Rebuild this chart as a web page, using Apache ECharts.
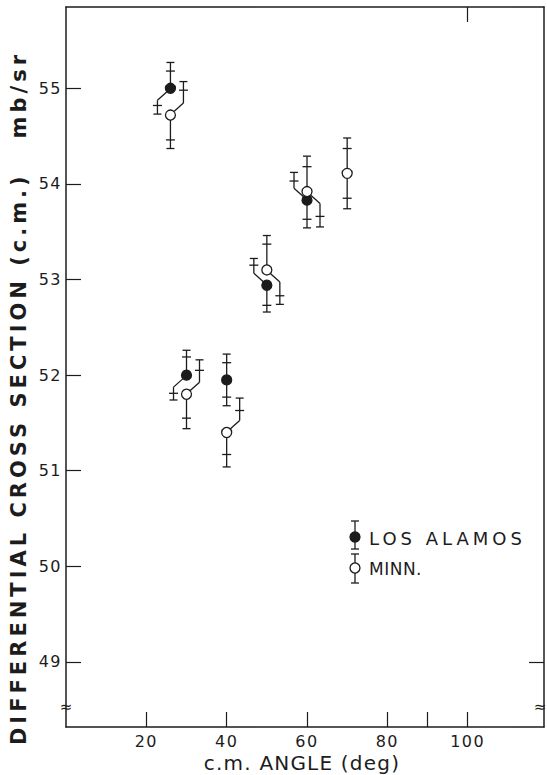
<!DOCTYPE html>
<html>
<head>
<meta charset="utf-8">
<script src="https://cdn.jsdelivr.net/npm/echarts@6/dist/echarts.min.js"></script>
<style>
  html, body { margin: 0; padding: 0; background: #fff; }
  #chart { width: 547px; height: 775px; }
  /* the scanned lettering is widely spaced */
  #chart text[style*="21px"] { letter-spacing: 4px; }
  #chart text[style*="20px"] { letter-spacing: 1.2px; }
  #chart text[style*="18px"] { letter-spacing: 4px; }
  #chart text[style*="17px"] { letter-spacing: 0.5px; }
  #chart text[style*="16px"] { letter-spacing: 1.5px; }
</style>
</head>
<body>
<div id="chart"></div>
<script>
// Los Alamos (filled circles)
var laAngle = [26, 30, 40, 50, 60];
var laValue = [55.0, 52.0, 51.95, 52.94, 53.83];
var laErr = [0.27, 0.26, 0.27, 0.28, 0.29];
var laErrInner = [0.18, 0.19, 0.18, 0.21, 0.20];
var laJog = ['down', 'down', '', 'up', 'up'];

// Minn. (open circles)
var mnAngle = [26, 30, 40, 50, 60, 70];
var mnValue = [54.72, 51.80, 51.40, 53.10, 53.92, 54.11];
var mnErr = [0.35, 0.36, 0.36, 0.36, 0.37, 0.37];
var mnErrInner = [0.26, 0.25, 0.23, 0.27, 0.26, 0.26];
var mnJog = ['up', 'up', 'up', 'down', 'down', ''];

var yTicks = [49, 50, 51, 52, 53, 54, 55];
var xTicks = [20, 40, 60, 80, 90, 100];
var xLabels = [20, 40, 60, 80, 100];

var INK = '#1c1c1c';
var FONT = 'DejaVu Sans';

function seg(x1, y1, x2, y2) {
  return {
    type: 'line',
    shape: { x1: x1, y1: y1, x2: x2, y2: y2 },
    style: { stroke: INK, lineWidth: 1.3 }
  };
}

// error bar with an optional side-jog when two points overlap
function errorBarItem(jogs, side, filled) {
  return function (params, api) {
    var x = api.value(0), y = api.value(1);
    var e = api.value(2), ei = api.value(3);
    var c = api.coord([x, y]);
    var jog = jogs[params.dataIndex];
    var R = 5, DX = 13, DY = 12, CAP = 4;
    var kids = [];
    ['up', 'down'].forEach(function (dir) {
      var s = dir === 'up' ? 1 : -1;
      var yo = api.coord([x, y + s * e])[1];
      var yi = api.coord([x, y + s * ei])[1];
      var bx = c[0], y0 = c[1];
      if (jog === dir) {
        bx = c[0] + side * DX;
        y0 = c[1] - s * DY;
        kids.push(seg(c[0] + side * R * 0.7, c[1] - s * R * 0.7, bx, y0));
      }
      kids.push(seg(bx, y0, bx, yo));
      kids.push(seg(bx - CAP, yo, bx + CAP, yo));
      kids.push(seg(bx - CAP - 0.5, yi, bx + CAP + 0.5, yi));
    });
    kids.push({
      type: 'circle',
      shape: { cx: c[0], cy: c[1], r: R },
      style: { fill: filled ? INK : '#fff', stroke: INK, lineWidth: 1.3 }
    });
    return { type: 'group', children: kids };
  };
}

function rows(a, v, e, ei) {
  return a.map(function (x, i) { return [x, v[i], e[i], ei[i]]; });
}

function legendMark(cx, cy, top, bottom, filled) {
  return [
    seg(cx, top, cx, bottom),
    seg(cx - 4, top, cx + 4, top),
    seg(cx - 4, bottom, cx + 4, bottom),
    {
      type: 'circle',
      shape: { cx: cx, cy: cy, r: 5 },
      style: { fill: filled ? INK : '#fff', stroke: INK, lineWidth: 1.3 }
    }
  ];
}

var chart = echarts.init(document.getElementById('chart'), null, { renderer: 'svg' });

var axisLine = { show: true, onZero: false, lineStyle: { color: INK, width: 1.5 } };
var tickStyle = { color: INK, width: 1.2 };
var labelStyle = { color: INK, fontSize: 16, fontFamily: FONT };

chart.setOption({
  backgroundColor: '#fff',
  animation: false,
  grid: { left: 66, right: 3, top: 7, bottom: 48 },
  xAxis: [{
    type: 'value', min: 0, max: 119,
    axisLine: axisLine,
    axisTick: { inside: true, length: 15, lineStyle: tickStyle, customValues: xTicks },
    axisLabel: Object.assign({ margin: 6, customValues: xLabels }, labelStyle),
    splitLine: { show: false }
  }, {
    type: 'value', min: 0, max: 119, position: 'top',
    axisLine: axisLine,
    axisTick: { inside: true, length: 15, lineStyle: tickStyle, customValues: [100] },
    axisLabel: { show: false },
    splitLine: { show: false }
  }],
  yAxis: [{
    type: 'value', min: 48.32, max: 55.85,
    axisLine: axisLine,
    axisTick: { inside: true, length: 15, lineStyle: tickStyle, customValues: yTicks },
    axisLabel: Object.assign({ margin: 4, customValues: yTicks }, labelStyle),
    splitLine: { show: false }
  }, {
    type: 'value', min: 48.32, max: 55.85, position: 'right',
    axisLine: axisLine,
    axisTick: { inside: true, length: 15, lineStyle: tickStyle, customValues: [49] },
    axisLabel: { show: false },
    splitLine: { show: false }
  }],
  series: [{
    name: 'LOS ALAMOS',
    type: 'custom',
    clip: false,
    renderItem: errorBarItem(laJog, -1, true),
    data: rows(laAngle, laValue, laErr, laErrInner),
    z: 3
  }, {
    name: 'MINN.',
    type: 'custom',
    clip: false,
    renderItem: errorBarItem(mnJog, 1, false),
    data: rows(mnAngle, mnValue, mnErr, mnErrInner),
    z: 4
  }],
  graphic: [{
    type: 'group',
    children: legendMark(355, 537, 521, 549, true).concat(legendMark(355, 568, 554, 583, false)).concat([
      { type: 'text', x: 369, y: 538, style: { text: 'LOS ALAMOS', fill: INK, font: '18px "' + FONT + '"', verticalAlign: 'middle' } },
      { type: 'text', x: 369, y: 569, style: { text: 'MINN.', fill: INK, font: '17px "' + FONT + '"', verticalAlign: 'middle' } }
    ])
  }, {
    type: 'text', x: 19, y: 398, rotation: Math.PI / 2,
    style: { text: 'DIFFERENTIAL CROSS SECTION (c.m.)   mb/sr', fill: INK, font: 'bold 21px "' + FONT + '"', align: 'center', verticalAlign: 'middle' }
  }, {
    type: 'text', x: 302, y: 763,
    style: { text: 'c.m. ANGLE (deg)', fill: INK, font: '20px "' + FONT + '"', align: 'center', verticalAlign: 'middle' }
  }, {
    type: 'text', x: 66, y: 707,
    style: { text: '≈', fill: INK, font: '15px "' + FONT + '"', align: 'center', verticalAlign: 'middle' }
  }, {
    type: 'text', x: 540, y: 707,
    style: { text: '≈', fill: INK, font: '15px "' + FONT + '"', align: 'center', verticalAlign: 'middle' }
  }]
});
</script>
</body>
</html>
